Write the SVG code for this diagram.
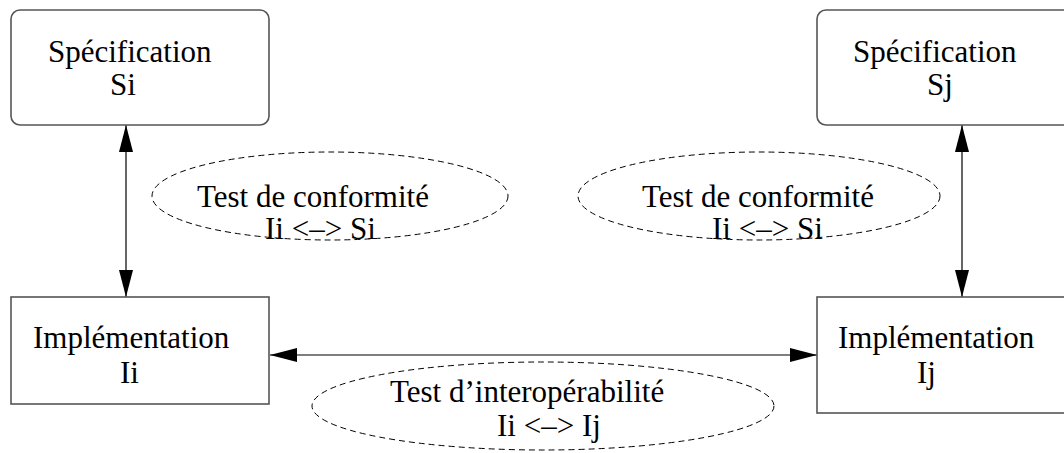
<svg xmlns="http://www.w3.org/2000/svg" width="1064" height="453" viewBox="0 0 1064 453">
  <style>
    .box { fill: #ffffff; stroke: #555555; stroke-width: 1.6; }
    .oval { fill: none; stroke: #000000; stroke-width: 1; stroke-dasharray: 6 4; }
    .link { fill: none; stroke: #000000; stroke-width: 1.2; }
    text { font-family: "Liberation Serif", "Times New Roman", serif; font-size: 31px; fill: #000000; }
  </style>
  <defs>
    <!-- filled arrowhead; tip sits on the line end -->
    <marker id="head" markerUnits="userSpaceOnUse" markerWidth="28" markerHeight="16" refX="27" refY="7" orient="auto-start-reverse">
      <polygon points="0,0 27,7 0,14" fill="#000000"/>
    </marker>
  </defs>
  <rect width="1064" height="453" fill="#ffffff"/>

  <g id="connectors">
    <line class="link" x1="126" y1="125" x2="126" y2="297" marker-start="url(#head)" marker-end="url(#head)"/>
    <line class="link" x1="962" y1="125" x2="962" y2="297" marker-start="url(#head)" marker-end="url(#head)"/>
    <line class="link" x1="270" y1="355" x2="817" y2="355" marker-start="url(#head)" marker-end="url(#head)"/>
  </g>

  <g id="spec-si">
    <rect class="box" x="11" y="10" width="258" height="115" rx="9"/>
    <text x="48" y="62">Spécification</text>
    <text x="110" y="95">Si</text>
  </g>

  <g id="spec-sj">
    <rect class="box" x="817" y="10" width="262" height="115" rx="9"/>
    <text x="853" y="62">Spécification</text>
    <text x="927" y="95">Sj</text>
  </g>

  <g id="impl-ii">
    <rect class="box" x="11" y="297" width="258" height="107"/>
    <text x="33" y="348">Implémentation</text>
    <text x="120" y="383">Ii</text>
  </g>

  <g id="impl-ij">
    <rect class="box" x="817" y="297" width="262" height="116"/>
    <text x="838" y="348">Implémentation</text>
    <text x="917" y="383">Ij</text>
  </g>

  <g id="conformance-i">
    <ellipse class="oval" cx="330" cy="196" rx="178" ry="44"/>
    <text x="197" y="207">Test de conformité</text>
    <text x="265" y="239">Ii &lt;–&gt; Si</text>
  </g>

  <g id="conformance-j">
    <ellipse class="oval" cx="759" cy="196" rx="181" ry="44"/>
    <text x="642" y="207">Test de conformité</text>
    <text x="712" y="239">Ii &lt;–&gt; Si</text>
  </g>

  <g id="interop">
    <ellipse class="oval" cx="543" cy="406" rx="231" ry="44"/>
    <text x="390" y="402">Test d’interopérabilité</text>
    <text x="497" y="436">Ii &lt;–&gt; Ij</text>
  </g>
</svg>
